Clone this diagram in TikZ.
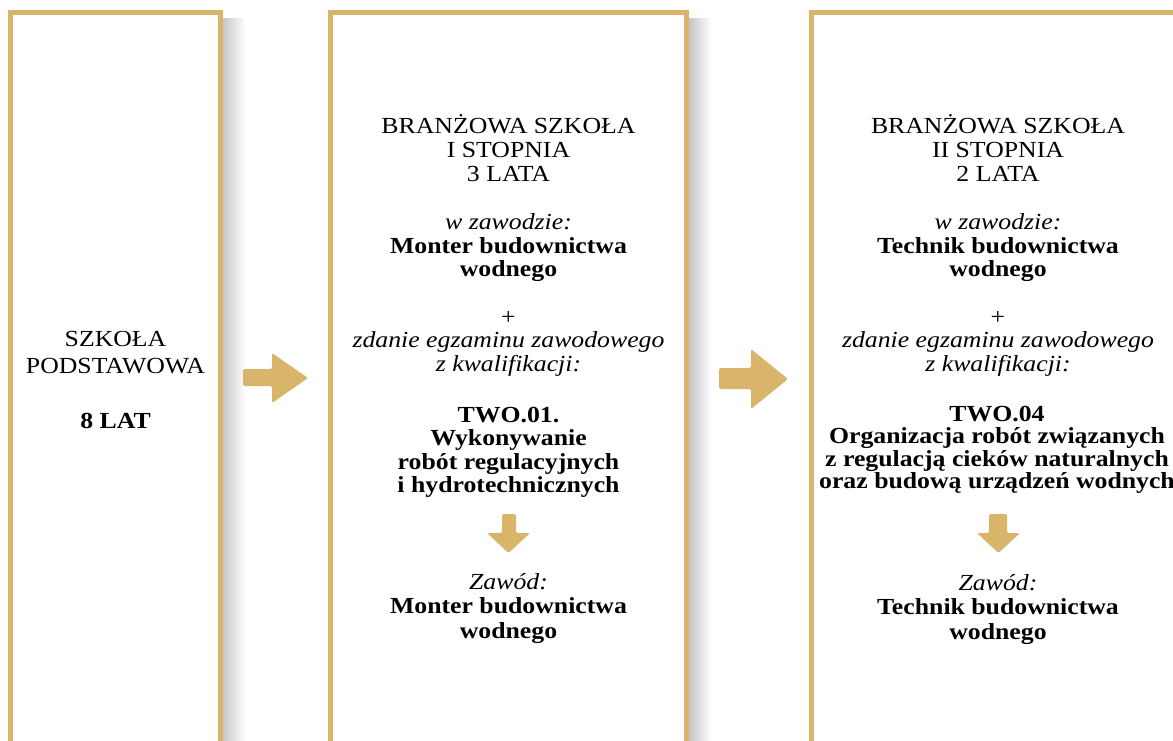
\documentclass[tikz,border=0pt]{standalone}
\usepackage{fontspec}
\setmainfont{Liberation Serif}[FakeStretch=1.12]
\definecolor{gold}{RGB}{216,181,106}
\tikzset{txt/.style={align=center, anchor=base, inner sep=0pt, font=\fontsize{23}{23.5}\selectfont}}
\begin{document}
\begin{tikzpicture}[x=1pt, y=-1pt]
\useasboundingbox (0,0) rectangle (1173,740);
\clip (0,0) rectangle (1173,740);
% shadows
\shade [left color=black!22, right color=white] (223,18) rectangle (246,740);
\shade [left color=black!22, right color=white] (689,18) rectangle (712,740);
% frames
\draw [gold, line width=5pt] (10.5,760) -- (10.5,12.5) -- (220.5,12.5) -- (220.5,760);
\draw [gold, line width=5pt] (330.5,760) -- (330.5,12.5) -- (686.5,12.5) -- (686.5,760);
\draw [gold, line width=5pt] (811.5,760) -- (811.5,12.5) -- (1190,12.5) -- (1190,760);
% arrows
\fill [gold, rounded corners=2pt] (243,369) -- (272,369) -- (272,353) -- (308,378) -- (272,403) -- (272,386) -- (243,386) -- cycle;
\fill [gold, rounded corners=2pt] (719,368) -- (751,368) -- (751,349) -- (788,379) -- (751,409) -- (751,389) -- (719,389) -- cycle;
\fill [gold, rounded corners=1.5pt] (502,514) -- (516,514) -- (516,533) -- (530,533) -- (508.5,553) -- (487,533) -- (502,533) -- cycle;
\fill [gold, rounded corners=1.5pt] (989,514) -- (1007,514) -- (1007,533) -- (1020,533) -- (998.5,553) -- (977,533) -- (989,533) -- cycle;
% texts
\node (primary) at (115.5,373.3) [txt, font=\fontsize{23}{26.5}\selectfont] {SZKOŁA\\PODSTAWOWA};
\node (years) at (115.5,428) [txt] {\textbf{8 LAT}};
\node (title1) at (508.5,181.7) [txt, font=\fontsize{23}{24.2}\selectfont] {BRANŻOWA SZKOŁA\\I STOPNIA\\3 LATA};
\node (job1) at (508.5,276.7) [txt] {\textit{w zawodzie:}\\\textbf{Monter budownictwa}\\\textbf{wodnego}};
\node (exam1) at (508.5,371.7) [txt, font=\fontsize{23}{23.8}\selectfont] {+\\\textit{zdanie egzaminu zawodowego}\\\textit{z kwalifikacji:}};
\node (qual1) at (508.5,492.3) [txt, font=\fontsize{23}{23.3}\selectfont] {\textbf{TWO.01.}\\\textbf{Wykonywanie}\\\textbf{robót regulacyjnych}\\\textbf{i hydrotechnicznych}};
\node (prof1) at (508.5,638.3) [txt, font=\fontsize{23}{24.5}\selectfont] {\textit{Zawód:}\\\textbf{Monter budownictwa}\\\textbf{wodnego}};
\node (title2) at (998,181.7) [txt, font=\fontsize{23}{24.2}\selectfont] {BRANŻOWA SZKOŁA\\II STOPNIA\\2 LATA};
\node (job2) at (998,276.7) [txt] {\textit{w zawodzie:}\\\textbf{Technik budownictwa}\\\textbf{wodnego}};
\node (exam2) at (998,371.7) [txt, font=\fontsize{23}{23.8}\selectfont] {+\\\textit{zdanie egzaminu zawodowego}\\\textit{z kwalifikacji:}};
\node (qual2) at (997,488.3) [txt, font=\fontsize{23}{22.2}\selectfont] {\textbf{TWO.04}\\\textbf{Organizacja robót związanych}\\\textbf{z regulacją cieków naturalnych}\\\textbf{oraz budową urządzeń wodnych}};
\node (prof2) at (998,639) [txt, font=\fontsize{23}{24.5}\selectfont] {\textit{Zawód:}\\\textbf{Technik budownictwa}\\\textbf{wodnego}};
\end{tikzpicture}
\end{document}
